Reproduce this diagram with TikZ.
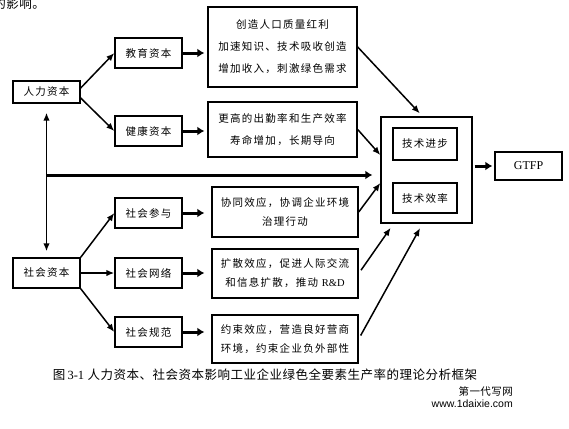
\documentclass[tikz,border=0pt]{standalone}
\usepackage{fontspec}
\setmainfont{Liberation Serif}
\newfontfamily\cjk[LetterSpace=12]{Noto Sans CJK SC}
\newfontfamily\capfont[LetterSpace=4]{Noto Sans CJK SC}
\newfontfamily\wmfont{Liberation Sans}
\usetikzlibrary{arrows.meta,positioning,calc}
\tikzset{
  smallbox/.style={rectangle, draw=black, line width=1.4pt, minimum width=67pt, minimum height=30pt, align=center, inner sep=2pt, font=\cjk\fontsize{10.5}{13}\selectfont},
  effbox/.style={rectangle, draw=black, line width=1.4pt, align=center, inner sep=2pt, font=\cjk\fontsize{10.5}{22}\selectfont},
  socbox/.style={effbox, minimum width=146pt, font=\cjk\fontsize{10.5}{19}\selectfont},
  flow/.style={line width=1.5pt, -{Latex[length=8pt,width=6.5pt]}},
  both/.style={line width=1.5pt, {Latex[length=8pt,width=6.5pt]}-{Latex[length=8pt,width=6.5pt]}},
  fatflow/.style={line width=3pt, -{Latex[length=7pt,width=9pt]}},
}

\begin{document}
\begin{tikzpicture}[x=1pt,y=-1pt]
  \useasboundingbox (0,0) rectangle (569,428);
  \node[anchor=east, inner sep=0pt, font=\capfont\fontsize{12.5}{14}\selectfont] (lead) at (45,4) {的影响。};
  % human capital side
  \node[smallbox, minimum height=22pt] (hc) at (46.5,92) {人力资本};
  \node[smallbox] (edu) at (148.5,53) {教育资本};
  \node[smallbox] (hlth) at (148.5,131) {健康资本};
  \node[effbox, minimum width=149pt, minimum height=80pt] (edueff) at (282.5,47) {创造人口质量红利\\加速知识、技术吸收创造\\增加收入，刺激绿色需求};
  \node[effbox, minimum width=149pt, minimum height=55pt] (hltheff) at (282.5,129.5) {更高的出勤率和生产效率\\寿命增加，长期导向};
  % social capital side
  \node[smallbox] (sc) at (46.5,273) {社会资本};
  \node[smallbox] (part) at (148.5,213) {社会参与};
  \node[smallbox] (net) at (148.5,273) {社会网络};
  \node[smallbox] (norm) at (148.5,332) {社会规范};
  \node[socbox, minimum height=50pt] (parteff) at (285,212) {协同效应，协调企业环境\\治理行动};
  \node[socbox, minimum height=49pt] (neteff) at (285,273.5) {扩散效应，促进人际交流\\和信息扩散，推动 {\rmfamily R\&D}};
  \node[socbox, minimum height=48pt] (normeff) at (285,339) {约束效应，营造良好营商\\环境，约束企业负外部性};
  % technology and GTFP
  \node[draw, line width=1.4pt, minimum width=91pt, minimum height=106pt] (tech) at (426.5,170) {};
  \node[smallbox, minimum width=64pt, minimum height=32pt] (prog) at (425,144) {技术进步};
  \node[smallbox, minimum width=64pt] (eff) at (425,198) {技术效率};
  \node[smallbox, minimum height=28pt, font=\rmfamily\fontsize{12}{14}\selectfont] (gtfp) at (528.5,166) {GTFP};
  \coordinate (jn) at (46.5,175);
  \draw[flow] ([yshift=4pt]hc.east) -- (edu.west); \draw[flow] ([yshift=-6pt]hc.east) -- (hlth.west);
  \draw[fatflow, shorten >=3pt] (edu.east) -- (edu.east -| edueff.west);
  \draw[fatflow, shorten >=3pt] (hlth.east) -- (hlth.east -| hltheff.west);
  \draw[both, shorten <=9pt, shorten >=6pt] (hc) -- (sc);
  \draw[line width=3pt, -{Latex[length=7pt,width=9pt]}, shorten >=8pt] (jn) -- (jn -| tech.west);
  \draw[flow] (sc.north east) -- (part.west); \draw[flow] (sc) -- (net); \draw[flow] (sc.south east) -- (norm.west);
  \draw[fatflow, shorten >=7pt] (part.east) -- (part.east -| parteff.west);
  \draw[fatflow, shorten >=7pt] (net.east) -- (net.east -| neteff.west);
  \draw[fatflow, shorten >=7pt] (norm.east) -- (norm.east -| normeff.west);
  \draw[flow, shorten >=4pt] (edueff.east) -- ([xshift=-4pt]tech.north);
  \draw[flow] (hltheff.east) -- ([yshift=15pt]tech.west);
  \draw[flow] (parteff.east) -- ([yshift=-13pt]tech.west);
  \draw[flow, shorten <=4pt, shorten >=5pt] (neteff.east) -- ([xshift=-33pt]tech.south);
  \draw[flow, shorten <=4pt, shorten >=5pt] (normeff.east) -- ([xshift=-4pt]tech.south);
  \draw[fatflow, shorten <=2pt, shorten >=2pt] (tech.east |- gtfp.west) -- (gtfp.west);
  % caption and mark
  \node[font=\capfont\fontsize{12.5}{14}\selectfont] (cap) at (265,375) {图\,{\rmfamily 3-1} 人力资本、社会资本影响工业企业绿色全要素生产率的理论分析框架};
  \node[anchor=east, inner sep=0pt, font=\capfont\fontsize{10.5}{12}\selectfont] (wm1) at (513,391) {第一代写网};
  \node[anchor=east, inner sep=0pt, font=\wmfont\fontsize{10.5}{12}\selectfont] (wm2) at (513,404) {www.1daixie.com};
\end{tikzpicture}
\end{document}
